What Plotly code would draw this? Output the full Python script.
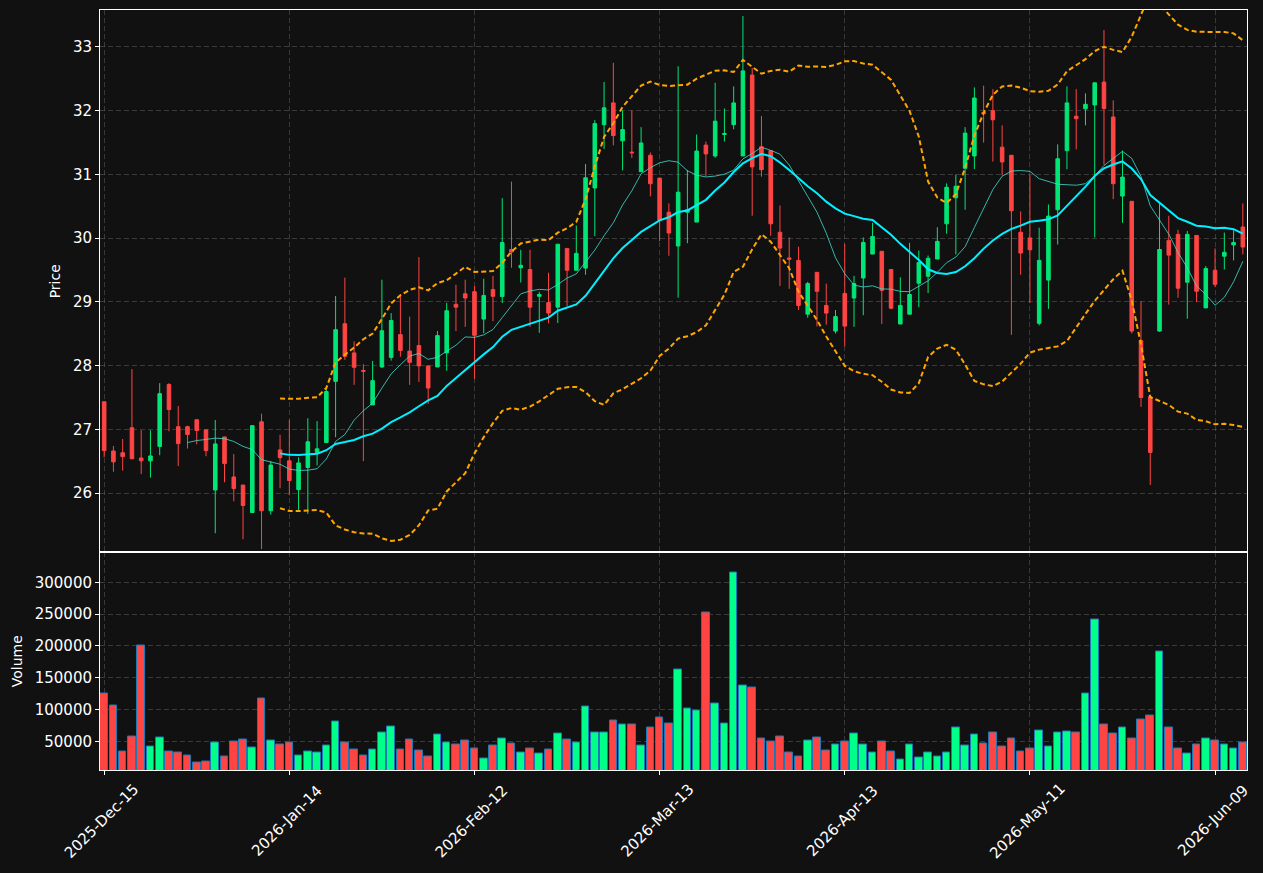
import pandas as pd
import plotly.graph_objects as go

# ---------------- data ----------------
tick_labels = ["2025-Dec-15", "2026-Jan-14", "2026-Feb-12", "2026-Mar-13",
               "2026-Apr-13", "2026-May-11", "2026-Jun-09"]
tick_positions = [0, 20, 40, 60, 80, 100, 120]

opens = [27.435, 26.662, 26.635, 27.027, 26.552, 26.508, 26.734, 27.705, 27.043, 27.043,
         27.153, 26.994, 26.05, 26.883, 26.254, 26.128, 25.697, 27.12, 25.725, 26.679,
         26.508, 26.056, 26.403, 26.64, 26.795, 27.755, 28.659, 28.201, 27.925, 27.385,
         27.981, 28.13, 28.488, 28.229, 28.317, 27.997, 27.981, 28.201, 28.963, 29.128,
         29.161, 28.731, 29.194, 29.084, 29.823, 29.536, 29.509, 29.089, 28.99, 28.919,
         29.84, 29.498, 29.531, 30.788, 31.781, 32.123, 31.527, 31.351, 31.042, 31.301,
         30.943, 30.408, 29.878, 30.408, 30.253, 31.461, 31.29, 31.627, 31.781, 31.29,
         32.559, 31.434, 31.373, 30.093, 29.691, 29.652, 28.808, 29.465, 28.946, 28.543,
         29.134, 29.062, 29.376, 29.751, 29.795, 29.509, 28.654, 28.808, 29.294, 29.404,
         29.674, 30.226, 30.634, 31.097, 31.29, 31.974, 32.002, 31.428, 31.301, 30.093,
         30.005, 28.665, 29.343, 30.446, 31.373, 31.914, 32.029, 32.09, 32.449, 31.902,
         30.661, 30.579, 28.394, 27.512, 28.543, 29.966, 30.06, 29.31, 30.044, 28.907,
         29.498, 29.718, 29.895, 30.176]

highs = [27.44, 26.74, 26.85, 27.948, 26.988, 26.988, 27.727, 27.727, 27.369, 27.06,
         27.153, 26.994, 27.148, 26.883, 26.613, 26.128, 27.06, 27.247, 26.503, 26.916,
         27.153, 26.563, 27.176, 27.131, 27.65, 29.095, 29.382, 28.383, 28.025, 28.075,
         29.349, 28.825, 29.123, 28.77, 29.702, 27.997, 28.543, 28.985, 29.271, 29.349,
         29.249, 29.365, 29.409, 30.628, 30.888, 29.818, 29.818, 29.161, 29.459, 29.906,
         29.84, 30.198, 31.163, 31.853, 32.449, 32.752, 32.007, 32.007, 31.743, 31.345,
         30.943, 30.546, 32.697, 31.07, 31.627, 31.516, 32.438, 32.035, 32.382, 33.485,
         32.669, 31.919, 31.373, 30.513, 30.011, 29.867, 29.316, 29.465, 29.288, 28.874,
         29.911, 29.409, 30.011, 30.242, 29.795, 29.509, 29.387, 29.928, 29.807, 29.729,
         30.171, 30.86, 30.998, 31.743, 32.366, 32.393, 32.338, 31.77, 31.301, 30.419,
         30.992, 30.165, 30.529, 31.472, 32.382, 32.338, 32.272, 32.44, 33.265, 32.162,
         31.373, 30.579, 29.012, 27.512, 30.546, 30.353, 30.132, 30.115, 30.044, 29.564,
         29.84, 30.088, 30.126, 30.546]

lows = [26.563, 26.337, 26.354, 26.53, 26.299, 26.243, 26.596, 26.971, 26.425, 26.701,
        26.767, 26.58, 25.372, 26.172, 25.874, 25.278, 25.697, 25.124, 25.664, 26.078,
        25.968, 25.719, 25.675, 26.436, 26.795, 26.878, 28.091, 27.7, 26.503, 27.385,
        27.964, 28.08, 28.141, 27.7, 27.744, 27.402, 27.981, 27.92, 28.543, 28.61,
        27.793, 28.51, 28.698, 28.985, 29.536, 29.305, 28.61, 28.516, 28.665, 28.67,
        28.935, 29.498, 29.426, 30.033, 31.401, 31.456, 31.064, 31.257, 31.042, 30.656,
        29.955, 29.724, 29.067, 29.922, 30.253, 30.976, 31.263, 31.516, 31.709, 31.29,
        30.353, 30.965, 30.038, 29.249, 29.205, 28.874, 28.753, 28.615, 28.643, 28.505,
        28.301, 28.61, 28.792, 29.751, 28.654, 28.886, 28.654, 28.808, 28.919, 29.139,
        29.674, 30.071, 29.746, 30.446, 31.086, 31.5, 31.202, 30.987, 28.483, 29.426,
        28.985, 28.632, 28.891, 29.9, 31.081, 31.395, 31.77, 30.011, 31.152, 30.612,
        30.242, 28.505, 27.352, 26.128, 28.532, 28.957, 29.067, 28.737, 28.996, 28.907,
        29.233, 29.509, 29.652, 29.746]

closes = [26.668, 26.492, 26.574, 26.541, 26.508, 26.585, 27.562, 27.313, 26.778, 26.922,
          26.983, 26.668, 26.773, 26.464, 26.072, 25.808, 27.06, 25.725, 26.442, 26.558,
          26.199, 26.475, 26.806, 26.696, 27.595, 28.565, 28.146, 27.975, 27.914, 27.766,
          28.549, 28.709, 28.24, 28.053, 27.997, 27.65, 28.472, 28.863, 28.919, 29.062,
          28.477, 29.101, 29.089, 29.933, 29.784, 29.575, 28.919, 29.117, 28.825, 29.906,
          29.498, 29.762, 30.948, 31.798, 32.046, 31.61, 31.704, 31.34, 31.494, 30.855,
          30.281, 30.082, 30.722, 30.446, 31.367, 31.323, 31.836, 31.643, 32.123, 32.625,
          31.119, 31.075, 30.226, 29.845, 29.669, 28.946, 29.288, 29.167, 28.825, 28.77,
          28.621, 29.288, 29.933, 30.027, 29.183, 28.902, 28.946, 29.117, 29.619, 29.685,
          29.95, 30.799, 30.816, 31.649, 32.2, 31.952, 31.858, 31.196, 30.43, 29.768,
          29.818, 29.652, 30.347, 31.246, 32.123, 31.875, 32.101, 32.438, 32.035, 30.855,
          30.959, 28.543, 27.501, 26.64, 29.823, 29.735, 29.216, 30.06, 29.167, 29.525,
          29.277, 29.779, 29.933, 29.862]

volumes = [124700, 105800, 34700, 58400, 200500, 42600, 56800, 34700, 33200, 28400,
           16300, 17900, 47900, 26800, 49500, 53700, 41100, 116800, 52100, 45800,
           47900, 28400, 34700, 33200, 44200, 80500, 47900, 37900, 28400, 37900,
           64700, 74200, 37900, 53700, 36300, 26800, 61600, 48900, 45800, 52100,
           39500, 23200, 44200, 55300, 47400, 33200, 39500, 31600, 37900, 63200,
           53700, 48900, 104200, 64700, 64700, 82100, 75800, 75800, 44200, 71100,
           86800, 77400, 162600, 101000, 97900, 252600, 108900, 77400, 315800, 137400,
           134200, 55300, 50500, 58400, 33200, 26800, 52100, 56800, 36300, 45800,
           50500, 63200, 45800, 33200, 50500, 34700, 22100, 45800, 25300, 33200,
           26800, 33200, 71100, 44200, 61600, 47400, 64700, 42600, 55300, 34700,
           39500, 67900, 42600, 64700, 66300, 64700, 124700, 241600, 75800, 63200,
           72600, 55300, 83700, 90000, 191000, 71100, 39500, 31600, 45800, 55300,
           52100, 45800, 39500, 48900]

# ---------------- derived series ----------------
idx = list(range(len(closes)))
close_s = pd.Series(closes)
sma10 = close_s.rolling(10).mean()
sma20 = close_s.rolling(20).mean()
std20 = close_s.rolling(20).std(ddof=0)
bb_up = sma20 + 2 * std20
bb_lo = sma20 - 2 * std20

UP = "#00e676"
DOWN = "#ff4444"
VUP = "#00ff88"
vol_colors = [VUP if c >= o else DOWN for o, c in zip(opens, closes)]

FONT = "DejaVu Sans"
GRID = "rgba(255,255,255,0.17)"

fig = go.Figure()

fig.add_trace(go.Candlestick(
    x=idx, open=opens, high=highs, low=lows, close=closes,
    increasing=dict(line=dict(color=UP, width=1), fillcolor=UP),
    decreasing=dict(line=dict(color=DOWN, width=1), fillcolor=DOWN),
    whiskerwidth=0, xaxis="x", yaxis="y", showlegend=False,
))

fig.add_trace(go.Scatter(x=idx, y=bb_up, mode="lines", xaxis="x", yaxis="y",
                         line=dict(color="#ffa500", width=2, dash="5px,3px"), showlegend=False))
fig.add_trace(go.Scatter(x=idx, y=bb_lo, mode="lines", xaxis="x", yaxis="y",
                         line=dict(color="#ffa500", width=2, dash="5px,3px"), showlegend=False))
fig.add_trace(go.Scatter(x=idx, y=sma10, mode="lines", xaxis="x", yaxis="y",
                         line=dict(color="rgba(64,224,208,0.8)", width=1), showlegend=False))
fig.add_trace(go.Scatter(x=idx, y=sma20, mode="lines", xaxis="x", yaxis="y",
                         line=dict(color="#00f0ff", width=2), showlegend=False))

fig.add_trace(go.Bar(x=idx, y=volumes, xaxis="x2", yaxis="y2", width=0.82,
                     marker=dict(color=vol_colors, line=dict(color="#1f77b4", width=1)),
                     showlegend=False))

axis_common = dict(
    showline=True, linecolor="white", linewidth=1, mirror=True,
    gridcolor=GRID, griddash="5px,3px", gridwidth=1, zeroline=False,
    ticks="outside", tickcolor="white", ticklen=4,
    tickfont=dict(family=FONT, size=15, color="white"),
)

xr = [-0.45, 123.45]
fig.update_layout(
    width=1263, height=873,
    paper_bgcolor="#111111", plot_bgcolor="#111111",
    margin=dict(l=100, r=16, t=10, b=103),
    font=dict(family=FONT, size=14, color="white"),
    boxgap=0.45,
    bargap=0,
    xaxis=dict(axis_common, domain=[0, 1], anchor="y", range=xr,
               tickvals=tick_positions, ticktext=tick_labels, showticklabels=False,
               ticks="", rangeslider=dict(visible=False)),
    yaxis=dict(axis_common, domain=[0.2862, 1], anchor="x", range=[25.07, 33.58],
               tickvals=[26, 27, 28, 29, 30, 31, 32, 33],
               title=dict(text="Price", font=dict(family=FONT, size=14, color="white"), standoff=8)),
    xaxis2=dict(axis_common, domain=[0, 1], anchor="y2", range=xr, matches="x",
                tickvals=tick_positions, ticktext=tick_labels, showticklabels=False),
    yaxis2=dict(axis_common, domain=[0, 0.2862], anchor="x2", range=[5000, 347000],
                tickvals=[50000, 100000, 150000, 200000, 250000, 300000],
                ticktext=["50000", "100000", "150000", "200000", "250000", "300000"],
                title=dict(text="Volume", font=dict(family=FONT, size=14, color="white"), standoff=8)),
)

# rotated date labels centred under their ticks (matplotlib-style rotation=45)
for pos, lab in zip(tick_positions, tick_labels):
    fig.add_annotation(x=pos, y=0, xref="x2", yref="paper", text=lab, showarrow=False,
                       textangle=-45, xanchor="center", yanchor="middle",
                       xshift=-2.5, yshift=-51,
                       font=dict(family=FONT, size=15, color="white"))

fig.write_html("out.html")
